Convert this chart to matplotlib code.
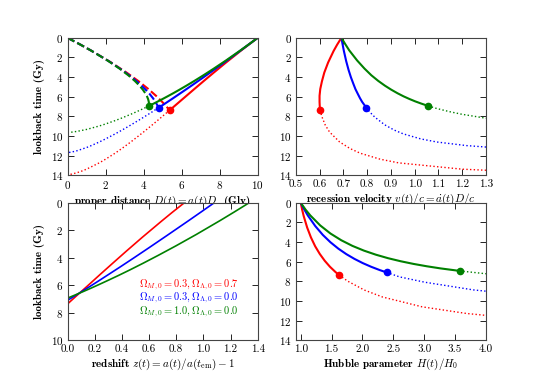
import numpy as np
import matplotlib.pyplot as plt
from matplotlib.ticker import FormatStrFormatter

plt.rcParams['font.family'] = 'cmr10'
plt.rcParams['mathtext.fontset'] = 'cm'
plt.rcParams['axes.formatter.use_mathtext'] = True
plt.rcParams['xtick.direction'] = 'in'
plt.rcParams['ytick.direction'] = 'in'
plt.rcParams['xtick.top'] = True
plt.rcParams['ytick.right'] = True
plt.rcParams['font.size'] = 8

# --- Omega_M=0.3, Omega_L=0.7 (red) ---
lb_r = [0, 0.698, 1.347, 2.518, 3.539, 4.433, 5.218, 5.911, 6.524, 7.068, 7.366]
D_r = [10, 9.524, 9.091, 8.333, 7.692, 7.143, 6.667, 6.25, 5.882, 5.556, 5.37]
Dph_r = [0, 0.681, 1.284, 2.298, 3.102, 3.742, 4.251, 4.656, 4.977, 5.229, 5.37]
v_r = [0.692, 0.674, 0.659, 0.636, 0.620, 0.610, 0.603, 0.600, 0.600, 0.601, 0.603]
H_r = [1, 1.023, 1.048, 1.104, 1.166, 1.234, 1.309, 1.389, 1.474, 1.565, 1.622]
z_r = [0.86, 0.771, 0.691, 0.55, 0.431, 0.329, 0.24, 0.163, 0.094, 0.033, 0]
lbD_r_dot = [7.366, 7.987, 8.890, 9.593, 10.601, 11.277, 11.755, 12.366, 12.74, 13.38, 13.56, 13.74, 13.89, 13.94]
D_r_dot = [5.37, 5.0, 4.444, 4.0, 3.333, 2.857, 2.5, 2.0, 1.667, 1.0, 0.769, 0.5, 0.2, 0]
lbv_r_dot = [7.366, 7.987, 8.890, 9.593, 10.601, 11.277, 11.755, 12.366, 12.74, 13.38, 13.56]
v_r_dot = [0.603, 0.609, 0.624, 0.642, 0.684, 0.728, 0.771, 0.855, 0.933, 1.199, 1.367]
lbH_r_dot = [7.366, 7.987, 8.890, 9.593, 10.601, 11.277, 11.755]
H_r_dot = [1.622, 1.761, 2.029, 2.321, 2.966, 3.683, 4.461]

# --- Omega_M=0.3, Omega_L=0.0 (blue) ---
lb_b = [0, 0.686, 1.305, 2.377, 3.271, 4.027, 4.674, 5.232, 5.718, 6.146, 6.523, 6.859, 7.10]
D_b = [10, 9.524, 9.091, 8.333, 7.692, 7.143, 6.667, 6.25, 5.882, 5.556, 5.263, 5.0, 4.79]
Dph_b = [0, 0.669, 1.244, 2.166, 2.858, 3.382, 3.781, 4.085, 4.316, 4.492, 4.623, 4.719, 4.79]
v_b = [0.692, 0.697, 0.702, 0.712, 0.722, 0.732, 0.742, 0.751, 0.761, 0.770, 0.779, 0.789, 0.796]
H_b = [1, 1.058, 1.116, 1.236, 1.357, 1.482, 1.609, 1.738, 1.870, 2.004, 2.141, 2.280, 2.393]
z_b = [1.08, 0.981, 0.891, 0.733, 0.6, 0.486, 0.387, 0.3, 0.224, 0.156, 0.095, 0.04, 0]
lbD_b_dot = [7.10, 7.554, 8.095, 8.877, 9.410, 9.793, 10.300, 10.616, 10.979, 11.178, 11.504, 11.646, 11.695]
D_b_dot = [4.79, 4.444, 4.0, 3.333, 2.857, 2.5, 2.0, 1.667, 1.25, 1.0, 0.5, 0.2, 0]
lbv_b_dot = [7.10, 7.554, 8.095, 8.877, 9.410, 9.793, 10.300, 10.616, 10.979, 11.178]
v_b_dot = [0.796, 0.811, 0.833, 0.875, 0.915, 0.953, 1.026, 1.094, 1.218, 1.330]
lbH_b_dot = [7.10, 7.554, 8.095, 8.877, 9.410]
H_b_dot = [2.393, 2.602, 3.010, 3.795, 4.630]

# --- Omega_M=1.0, Omega_L=0.0 (green) ---
lb_g = [0, 0.680, 1.284, 2.307, 3.136, 3.821, 4.393, 4.877, 5.291, 5.649, 5.959, 6.232, 6.472, 6.686, 6.942]
D_g = [10, 9.524, 9.091, 8.333, 7.692, 7.143, 6.667, 6.25, 5.882, 5.556, 5.263, 5.0, 4.762, 4.545, 4.279]
Dph_g = [0, 0.664, 1.224, 2.100, 2.735, 3.199, 3.538, 3.785, 3.964, 4.091, 4.178, 4.235, 4.268, 4.283, 4.279]
v_g = [0.692, 0.709, 0.725, 0.758, 0.789, 0.818, 0.847, 0.875, 0.902, 0.928, 0.953, 0.978, 1.002, 1.026, 1.057]
H_g = [1, 1.076, 1.154, 1.315, 1.482, 1.657, 1.837, 2.024, 2.217, 2.415, 2.619, 2.828, 3.043, 3.263, 3.573]
z_g = [1.337, 1.226, 1.125, 0.948, 0.798, 0.669, 0.558, 0.461, 0.375, 0.298, 0.23, 0.169, 0.113, 0.062, 0]
lbD_g_dot = [6.942, 7.201, 7.526, 7.785, 8.168, 8.435, 8.778, 8.984, 9.335, 9.532, 9.613, 9.64]
D_g_dot = [4.279, 4.0, 3.636, 3.333, 2.857, 2.5, 2.0, 1.667, 1.0, 0.5, 0.2, 0]
lbv_g_dot = [6.942, 7.201, 7.526, 7.785, 8.168, 8.435]
v_g_dot = [1.057, 1.093, 1.147, 1.198, 1.294, 1.383]
lbH_g_dot = [6.942, 7.201, 7.526, 7.785]
H_g_dot = [3.573, 3.953, 4.560, 5.196]

labels = [r'$\Omega_{M,0} = 0.3, \Omega_{\Lambda,0} = 0.7$',
          r'$\Omega_{M,0} = 0.3, \Omega_{\Lambda,0} = 0.0$',
          r'$\Omega_{M,0} = 1.0, \Omega_{\Lambda,0} = 0.0$']

models = [
    ('r', lb_r, D_r, Dph_r, v_r, H_r, z_r, lbD_r_dot, D_r_dot, lbv_r_dot, v_r_dot, lbH_r_dot, H_r_dot),
    ('b', lb_b, D_b, Dph_b, v_b, H_b, z_b, lbD_b_dot, D_b_dot, lbv_b_dot, v_b_dot, lbH_b_dot, H_b_dot),
    ('g', lb_g, D_g, Dph_g, v_g, H_g, z_g, lbD_g_dot, D_g_dot, lbv_g_dot, v_g_dot, lbH_g_dot, H_g_dot),
]

fig, axes = plt.subplots(2, 2, figsize=(5.4, 3.78), dpi=100)
plt.subplots_adjust(left=0.125, right=0.9, bottom=0.1, top=0.9, wspace=0.2, hspace=0.2)
ax1, ax2, ax3, ax4 = axes.ravel()

lw = 1.5
ms = 4.5
for c, lb, D, Dph, v, H, z, lbDd, Dd, lbvd, vd, lbHd, Hd in models:
    # proper distance
    ax1.plot(D, lb, color=c, lw=lw)
    ax1.plot(Dph, lb, color=c, lw=lw, ls='--')
    ax1.plot(Dd, lbDd, color=c, lw=1, ls=':')
    ax1.plot(D[-1], lb[-1], 'o', color=c, ms=ms, mec=c)
    # recession velocity
    ax2.plot(v, lb, color=c, lw=lw)
    ax2.plot(vd, lbvd, color=c, lw=1, ls=':')
    ax2.plot(v[-1], lb[-1], 'o', color=c, ms=ms, mec=c)
    # redshift
    ax3.plot(z, lb, color=c, lw=1.2)
    # Hubble parameter
    ax4.plot(H, lb, color=c, lw=lw)
    ax4.plot(Hd, lbHd, color=c, lw=1, ls=':')
    ax4.plot(H[-1], lb[-1], 'o', color=c, ms=ms, mec=c)

ax1.set_xlim(0, 10)
ax1.set_ylim(14, 0)
ax1.set_xticks(np.arange(0, 11, 2))
ax1.set_yticks(np.arange(0, 15, 2))
ax1.set_xlabel(r'proper distance $D(t)=a(t)D$  (Gly)', fontfamily='cmb10', labelpad=2)
ax1.set_ylabel('lookback time (Gy)', fontfamily='cmb10')

ax2.set_xlim(0.5, 1.3)
ax2.set_ylim(14, 0)
ax2.set_xticks(np.arange(0.5, 1.31, 0.1))
ax2.xaxis.set_major_formatter(FormatStrFormatter('%.1f'))
ax2.set_yticks(np.arange(0, 15, 2))
ax2.set_xlabel(r'recession velocity $v(t)/c = \dot{a}(t)D/c$', fontfamily='cmb10', labelpad=2)

ax3.set_xlim(0, 1.4)
ax3.set_ylim(10, 0)
ax3.set_xticks(np.arange(0, 1.41, 0.2))
ax3.xaxis.set_major_formatter(FormatStrFormatter('%.1f'))
ax3.set_yticks(np.arange(0, 11, 2))
ax3.set_xlabel(r'redshift $z(t) = a(t)/a(t_{\rm em}) - 1$', fontfamily='cmb10', labelpad=2)
ax3.set_ylabel('lookback time (Gy)', fontfamily='cmb10')
for i, (c, lab) in enumerate(zip(['r', 'b', 'g'], labels)):
    ax3.text(1.26, 5.95 + 0.98 * i, lab, color=c, ha='right', va='center', fontsize=7.5)

ax4.set_xlim(0.92, 4.0)
ax4.set_ylim(14, 0)
ax4.set_xticks(np.arange(1.0, 4.01, 0.5))
ax4.xaxis.set_major_formatter(FormatStrFormatter('%.1f'))
ax4.set_yticks(np.arange(0, 15, 2))
ax4.set_xlabel(r'Hubble parameter $H(t)/H_0$', fontfamily='cmb10', labelpad=2)

for ax in axes.ravel():
    ax.tick_params(length=4, width=0.6, labelsize=8, pad=3)
    for s in ax.spines.values():
        s.set_linewidth(0.8)
        s.set_color('#444444')

fig.savefig('out.png', dpi=100)
